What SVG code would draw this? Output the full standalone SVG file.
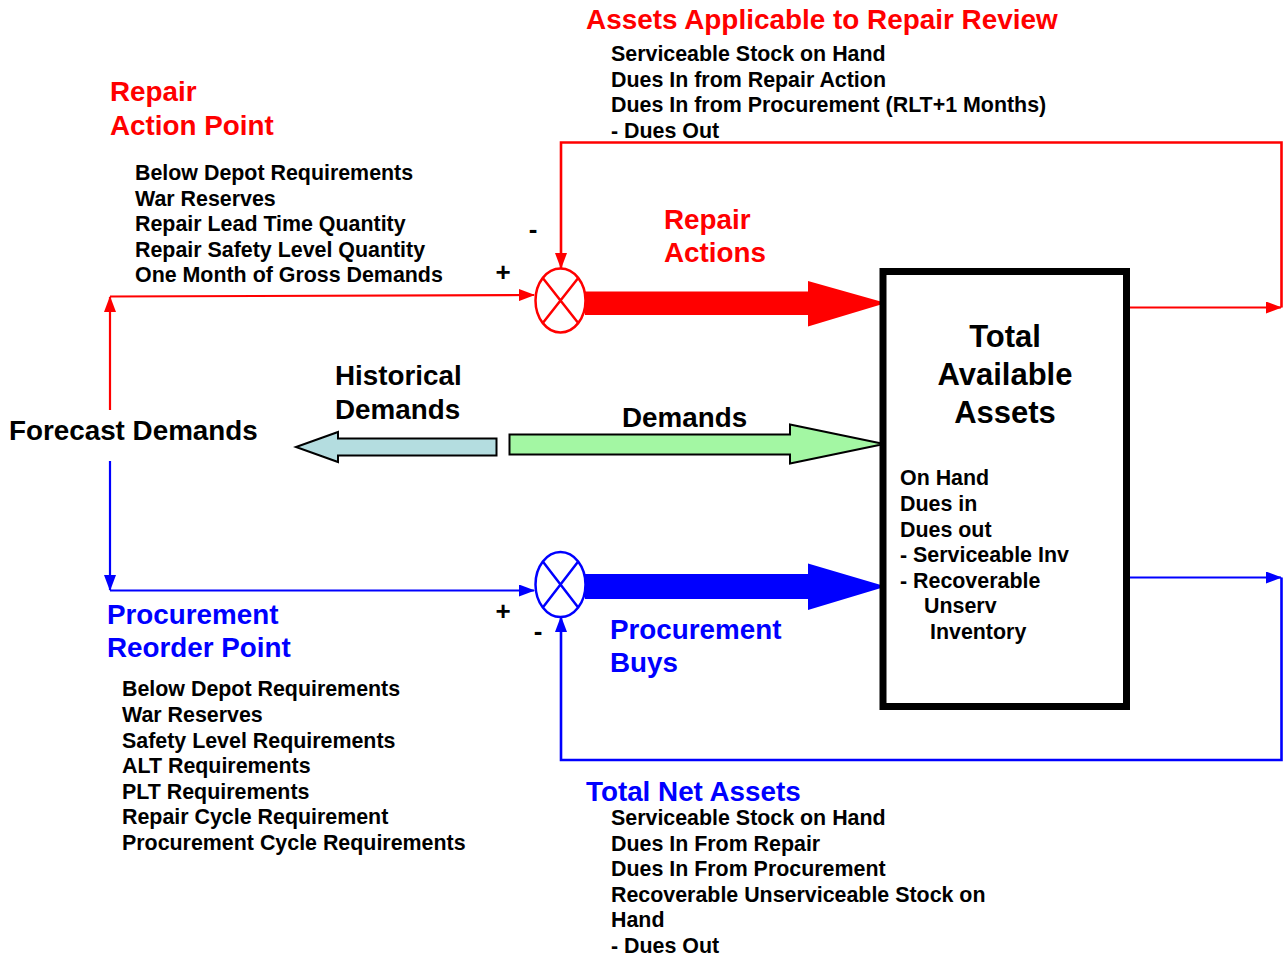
<svg xmlns="http://www.w3.org/2000/svg" width="1287" height="961" viewBox="0 0 1287 961">
<defs>
<style>
text{font-family:"Liberation Sans",Arial,sans-serif;font-weight:bold}
.h{font-size:27.8px}
.s{font-size:21.4px;fill:#000}
.red{fill:#FF0000}
.blue{fill:#0000FF}
.blk{fill:#000}
.rl{stroke:#FF0000;stroke-width:2.2;fill:none}
.bl{stroke:#0000FF;stroke-width:2.2;fill:none}
.fb{stroke-width:2.6}
.sg{font-size:26px;fill:#000;text-anchor:middle}
</style>
<marker id="ar" markerWidth="16" markerHeight="12" refX="15" refY="6" orient="auto" markerUnits="userSpaceOnUse"><path d="M0,0 L16,6 L0,12 Z" fill="#FF0000"/></marker>
<marker id="ab" markerWidth="16" markerHeight="12" refX="15" refY="6" orient="auto" markerUnits="userSpaceOnUse"><path d="M0,0 L16,6 L0,12 Z" fill="#0000FF"/></marker>
</defs>
<rect width="1287" height="961" fill="#fff"/>

<g id="connectors">
<path class="rl" d="M110,410 L110,297" marker-end="url(#ar)"/>
<path class="rl" d="M110,296.5 L534,295" marker-end="url(#ar)"/>
<path class="bl" d="M110,461 L110,590" marker-end="url(#ab)"/>
<path class="bl" d="M110,590.5 L534,590.5" marker-end="url(#ab)"/>
<path class="rl" d="M1127,307.5 L1281,307.5" marker-end="url(#ar)"/>
<path class="rl fb" d="M1281.5,307.5 L1281.5,142.5 L561,142.5 L561,268" marker-end="url(#ar)"/>
<path class="bl" d="M1127,577.5 L1281,577.5" marker-end="url(#ab)"/>
<path class="bl fb" d="M1281.5,577.5 L1281.5,760 L561,760 L561,617" marker-end="url(#ab)"/>
<path d="M585,291.5 L808,291.5 L808,281 L886,303 L808,326.5 L808,315 L585,315 Z" fill="#FF0000"/>
<path d="M585,574 L808,574 L808,563.5 L886,586.5 L808,610 L808,599 L585,599 Z" fill="#0000FF"/>
<path d="M496.5,438.5 L338,438.5 L338,432 L296,447 L338,462 L338,455.5 L496.5,455.5 Z" fill="#B4DDE0" stroke="#000" stroke-width="2"/>
<path d="M509.5,434.5 L790,434.5 L790,424.5 L884,444 L790,463.5 L790,454.5 L509.5,454.5 Z" fill="#A3F7A3" stroke="#000" stroke-width="2"/>
</g>

<g id="repair-sum">
<ellipse cx="560.5" cy="300.5" rx="25" ry="32" fill="#fff" stroke="#FF0000" stroke-width="2.5"/>
<path d="M542.8,277.9 L578.2,323.1 M578.2,277.9 L542.8,323.1" stroke="#FF0000" stroke-width="2.5"/>
</g>

<g id="procurement-sum">
<ellipse cx="560.5" cy="584.5" rx="25" ry="32.5" fill="#fff" stroke="#0000FF" stroke-width="2.5"/>
<path d="M542.8,561.5 L578.2,607.5 M578.2,561.5 L542.8,607.5" stroke="#0000FF" stroke-width="2.5"/>
</g>

<g id="total-available-assets">
<rect x="883" y="271.5" width="243.5" height="435" fill="#fff" stroke="#000" stroke-width="7"/>
<text x="1005" y="347" text-anchor="middle" class="blk" font-size="31">Total</text>
<text x="1005" y="385" text-anchor="middle" class="blk" font-size="31">Available</text>
<text x="1005" y="423" text-anchor="middle" class="blk" font-size="31">Assets</text>
<text class="s" x="900" y="485">On Hand</text>
<text class="s" x="900" y="511">Dues in</text>
<text class="s" x="900" y="537">Dues out</text>
<text class="s" x="900" y="562">- Serviceable Inv</text>
<text class="s" x="900" y="588">- Recoverable</text>
<text class="s" x="924" y="613">Unserv</text>
<text class="s" x="930" y="639">Inventory</text>
</g>

<g id="assets-applicable">
<text x="586" y="29" class="red" font-size="27.9">Assets Applicable to Repair Review</text>
<text class="s" x="611" y="61">Serviceable Stock on Hand</text>
<text class="s" x="611" y="87">Dues In from Repair Action</text>
<text class="s" x="611" y="112">Dues In from Procurement (RLT+1 Months)</text>
<text class="s" x="611" y="138">- Dues Out</text>
</g>

<g id="repair-action-point">
<text x="110" y="101" class="h red">Repair</text>
<text x="110" y="135" class="h red">Action Point</text>
<text class="s" x="135" y="180">Below Depot Requirements</text>
<text class="s" x="135" y="205.5">War Reserves</text>
<text class="s" x="135" y="231">Repair Lead Time Quantity</text>
<text class="s" x="135" y="256.5">Repair Safety Level Quantity</text>
<text class="s" x="135" y="282">One Month of Gross Demands</text>
</g>

<g id="signs">
<text x="533" y="238" class="sg">-</text>
<text x="503" y="281" class="sg">+</text>
<text x="503" y="620" class="sg">+</text>
<text x="538" y="640" class="sg">-</text>
</g>

<g id="repair-actions">
<text x="664" y="229" class="h red">Repair</text>
<text x="664" y="262" class="h red">Actions</text>
</g>

<g id="historical-demands">
<text x="335" y="385" class="h blk">Historical</text>
<text x="335" y="419" class="h blk">Demands</text>
</g>

<g id="demands">
<text x="622" y="427" class="h blk">Demands</text>
</g>

<g id="forecast-demands">
<text x="9" y="440" class="h blk">Forecast Demands</text>
</g>

<g id="procurement-reorder-point">
<text x="107" y="624" class="h blue">Procurement</text>
<text x="107" y="657" class="h blue">Reorder Point</text>
<text class="s" x="122" y="696">Below Depot Requirements</text>
<text class="s" x="122" y="722">War Reserves</text>
<text class="s" x="122" y="748">Safety Level Requirements</text>
<text class="s" x="122" y="773">ALT Requirements</text>
<text class="s" x="122" y="799">PLT Requirements</text>
<text class="s" x="122" y="824">Repair Cycle Requirement</text>
<text class="s" x="122" y="850">Procurement Cycle Requirements</text>
</g>

<g id="procurement-buys">
<text x="610" y="639" class="h blue">Procurement</text>
<text x="610" y="672" class="h blue">Buys</text>
</g>

<g id="total-net-assets">
<text x="586" y="801" class="h blue">Total Net Assets</text>
<text class="s" x="611" y="825">Serviceable Stock on Hand</text>
<text class="s" x="611" y="851">Dues In From Repair</text>
<text class="s" x="611" y="876">Dues In From Procurement</text>
<text class="s" x="611" y="902">Recoverable Unserviceable Stock on</text>
<text class="s" x="611" y="927">Hand</text>
<text class="s" x="611" y="953">- Dues Out</text>
</g>
</svg>
